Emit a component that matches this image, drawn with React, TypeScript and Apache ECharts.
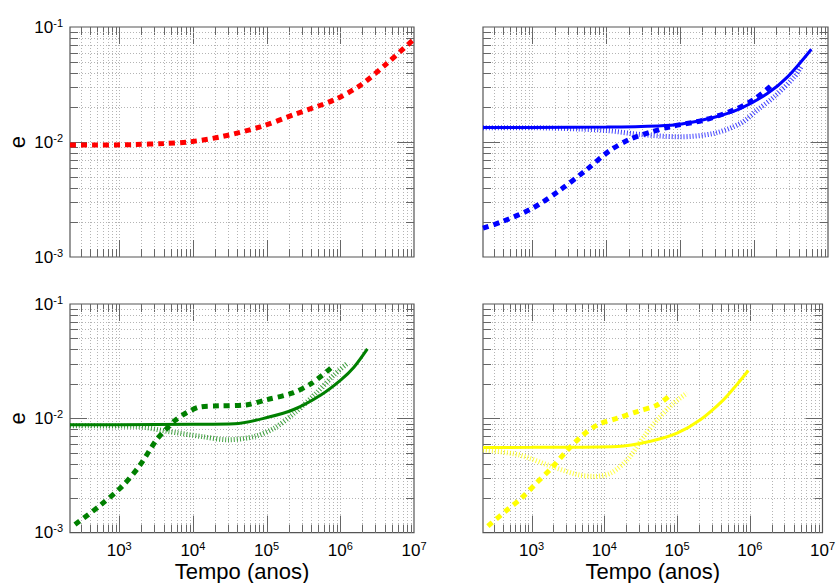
import React, { useEffect, useRef } from "react";
import * as echarts from "echarts";

// ---- axis ranges ----
const X_MIN = 215;
const X_MAX = 1e7;
const Y_MIN = 1e-3;
const Y_MAX = 1e-1;
const X_DECADES = [2, 3, 4, 5, 6];
const Y_DECADES = [-3, -2];
const X_NAME = "Tempo (anos)";
const Y_NAME = "e";

// ---- data: [time (years), e] ----
const redDashed = [
  [215, 0.0094], [500, 0.0094], [1600, 0.0095], [4000, 0.0097], [8600, 0.01],
  [24000, 0.0111], [84000, 0.0136], [240000, 0.0174], [820000, 0.0232],
  [1.9e6, 0.0313], [4.3e6, 0.0483], [9.9e6, 0.078],
];

const blueSolid = [
  [215, 0.0134], [1000, 0.0134], [1e4, 0.0135], [5e4, 0.0138], [1e5, 0.01426],
  [2.9e5, 0.0164], [6.6e5, 0.0196], [1.53e6, 0.0265], [2.86e6, 0.037], [5.96e6, 0.064],
];
const blueDashed = [
  [215, 0.00178], [390, 0.00203], [1000, 0.00265], [2310, 0.00377], [5350, 0.00571],
  [11100, 0.0084], [20800, 0.01055], [39100, 0.01213], [73100, 0.0136], [208000, 0.0155],
  [535000, 0.019], [1e6, 0.0235], [1.69e6, 0.0307],
];
const blueDotted = [
  [215, 0.0133], [1000, 0.0133], [4000, 0.013], [1e4, 0.0126], [3e4, 0.0116],
  [1e5, 0.0111], [2.9e5, 0.0119], [6.6e5, 0.01456], [1.11e6, 0.019], [1.88e6, 0.0248],
  [3.52e6, 0.037], [4.3e6, 0.045],
];

const greenSolid = [
  [215, 0.00877], [1000, 0.00878], [1e4, 0.00885], [36700, 0.00895], [1.04e5, 0.0102],
  [2.38e5, 0.012], [5.45e5, 0.016], [1.02e6, 0.0217], [1.53e6, 0.028], [2.33e6, 0.0405],
];
const greenDashed = [
  [251, 0.001175], [545, 0.00172], [1115, 0.00257], [1892, 0.00385], [3212, 0.00649],
  [4385, 0.00809], [5623, 0.0095], [8170, 0.01117], [12240, 0.01254], [22800, 0.01285],
  [52800, 0.0131], [98400, 0.0145], [221000, 0.0166], [412000, 0.0203], [767000, 0.028],
];
const greenDotted = [
  [215, 0.0086], [1640, 0.0085], [4620, 0.00767], [13000, 0.00693], [29900, 0.00649],
  [68400, 0.00693], [1.27e5, 0.0082], [2.38e5, 0.0111], [4.43e5, 0.016], [8.24e5, 0.024],
  [1.25e6, 0.0303],
];

const yellowSolid = [
  [215, 0.00556], [1000, 0.00557], [15100, 0.00567], [43400, 0.0063], [1e5, 0.0074],
  [2.09e5, 0.0097], [4.35e5, 0.0145], [6.6e5, 0.0196], [9.55e5, 0.0262],
];
const yellowDashed = [
  [251, 0.00114], [434, 0.00153], [731, 0.00201], [1170, 0.00272], [1875, 0.00367],
  [3000, 0.00513], [4810, 0.00693], [8130, 0.00878], [15200, 0.01004], [28500, 0.01146],
  [53500, 0.0131], [81300, 0.016],
];
const yellowDotted = [
  [215, 0.0053], [661, 0.0048], [1875, 0.0038], [4340, 0.00321], [7330, 0.0031],
  [12300, 0.00332], [20800, 0.00435], [35200, 0.00693], [53500, 0.0097], [90400, 0.0136],
  [137000, 0.0166],
];

const RED = "#ff0000";
const BLUE = "#0000ff";
const GREEN = "#008000";
const YELLOW = "#ffff00";
const FONT = "Liberation Sans, Arial, sans-serif";

type Curve = { data: number[][]; color: string; kind: "solid" | "dashed" | "dotted" };

const panels: {
  grid: { left: number; top: number; width: number; height: number };
  showX: boolean;
  showY: boolean;
  curves: Curve[];
}[] = [
  {
    grid: { left: 70, top: 27, width: 344, height: 230 },
    showX: false,
    showY: true,
    curves: [{ data: redDashed, color: RED, kind: "dashed" }],
  },
  {
    grid: { left: 483, top: 27, width: 345, height: 230 },
    showX: false,
    showY: false,
    curves: [
      { data: blueDotted, color: BLUE, kind: "dotted" },
      { data: blueDashed, color: BLUE, kind: "dashed" },
      { data: blueSolid, color: BLUE, kind: "solid" },
    ],
  },
  {
    grid: { left: 70, top: 304, width: 344, height: 229 },
    showX: true,
    showY: true,
    curves: [
      { data: greenDotted, color: GREEN, kind: "dotted" },
      { data: greenDashed, color: GREEN, kind: "dashed" },
      { data: greenSolid, color: GREEN, kind: "solid" },
    ],
  },
  {
    grid: { left: 483, top: 304, width: 345, height: 229 },
    showX: true,
    showY: false,
    curves: [
      { data: yellowDotted, color: YELLOW, kind: "dotted" },
      { data: yellowDashed, color: YELLOW, kind: "dashed" },
      { data: yellowSolid, color: YELLOW, kind: "solid" },
    ],
  },
];

function gridValues(decades: number[], lo: number, hi: number) {
  const out: { v: number; major: boolean }[] = [];
  for (const d of decades) {
    for (let k = 1; k <= 9; k++) {
      const v = k * Math.pow(10, d);
      if (v > lo * 1.0001 && v < hi * 0.9999) out.push({ v, major: k === 1 });
    }
  }
  return out;
}
const X_GRID = gridValues(X_DECADES, X_MIN, X_MAX);
const Y_GRID = gridValues(Y_DECADES, Y_MIN, Y_MAX);

const powLabel = (v: number) => {
  const l = Math.log10(v);
  const r = Math.round(l);
  if (Math.abs(l - r) > 1e-6) return "";
  return "{b|10}{s|" + r + "}";
};

const labelRich = {
  b: { fontSize: 17, fontFamily: FONT, color: "#000" },
  s: { fontSize: 11, fontFamily: FONT, color: "#000", padding: [0, 0, 9, 0] },
};

function renderGrid(params: any, api: any) {
  const cs = params.coordSys;
  const left = cs.x;
  const top = cs.y;
  const right = cs.x + cs.width;
  const bottom = cs.y + cs.height;
  const children: any[] = [];
  const gridStyle = { stroke: "#b4b4b4", lineWidth: 1, lineDash: [1, 2] };
  const tickStyle = { stroke: "#666", lineWidth: 1 };
  const MAJ = 17;
  const MIN = 8;
  for (const g of X_GRID) {
    const px = Math.round(api.coord([g.v, 0.01])[0]) + 0.5;
    children.push({ type: "line", shape: { x1: px, y1: top, x2: px, y2: bottom }, style: gridStyle, silent: true });
    const len = g.major ? MAJ : MIN;
    children.push({ type: "line", shape: { x1: px, y1: bottom, x2: px, y2: bottom - len }, style: tickStyle, silent: true });
    children.push({ type: "line", shape: { x1: px, y1: top, x2: px, y2: top + len }, style: tickStyle, silent: true });
  }
  for (const g of Y_GRID) {
    const py = Math.round(api.coord([1000, g.v])[1]) + 0.5;
    children.push({ type: "line", shape: { x1: left, y1: py, x2: right, y2: py }, style: gridStyle, silent: true });
    const len = g.major ? MAJ : MIN;
    children.push({ type: "line", shape: { x1: left, y1: py, x2: left + len, y2: py }, style: tickStyle, silent: true });
    children.push({ type: "line", shape: { x1: right, y1: py, x2: right - len, y2: py }, style: tickStyle, silent: true });
  }
  return { type: "group", children };
}

function buildOption() {
  const grid: any[] = [];
  const xAxis: any[] = [];
  const yAxis: any[] = [];
  const series: any[] = [];
  panels.forEach((p, i) => {
    grid.push({
      ...p.grid,
      show: true,
      borderColor: "#555",
      borderWidth: 1.2,
      backgroundColor: "#fff",
    });
    xAxis.push({
      type: "log",
      logBase: 10,
      gridIndex: i,
      min: X_MIN,
      max: X_MAX,
      axisLine: { show: false },
      axisTick: { show: false },
      splitLine: { show: false },
      axisLabel: {
        show: p.showX,
        formatter: powLabel,
        rich: labelRich,
        margin: 8,
        hideOverlap: false,
        showMinLabel: true,
        showMaxLabel: true,
      },
      name: p.showX ? X_NAME : "",
      nameLocation: "middle",
      nameGap: 24,
      nameTextStyle: { fontSize: 22, fontFamily: FONT, color: "#000" },
    });
    yAxis.push({
      type: "log",
      logBase: 10,
      gridIndex: i,
      min: Y_MIN,
      max: Y_MAX,
      axisLine: { show: false },
      axisTick: { show: false },
      splitLine: { show: false },
      axisLabel: {
        show: p.showY,
        formatter: powLabel,
        rich: labelRich,
        margin: 7,
        showMinLabel: true,
        showMaxLabel: true,
      },
      name: p.showY ? Y_NAME : "",
      nameLocation: "middle",
      nameRotate: 90,
      nameGap: 42,
      nameTextStyle: { fontSize: 22, fontFamily: FONT, color: "#000" },
    });
    series.push({
      type: "custom",
      xAxisIndex: i,
      yAxisIndex: i,
      data: [[1000, 0.01]],
      renderItem: renderGrid,
      silent: true,
      clip: false,
      z: 1,
    });
    p.curves.forEach((c) => {
      let lineStyle: any;
      if (c.kind === "solid") lineStyle = { color: c.color, width: 3 };
      else if (c.kind === "dashed") lineStyle = { color: c.color, width: 5, type: [6, 5], cap: "butt" };
      else lineStyle = { color: c.color, width: 5, type: [1, 2], cap: "butt", opacity: 0.75 };
      series.push({
        type: "line",
        xAxisIndex: i,
        yAxisIndex: i,
        data: c.data,
        symbol: "none",
        showSymbol: false,
        smooth: 0.3,
        lineStyle,
        z: 3,
        silent: true,
      });
    });
  });
  return { animation: false, backgroundColor: "#fff", grid, xAxis, yAxis, series };
}

export default function App() {
  const ref = useRef<HTMLDivElement>(null);
  useEffect(() => {
    if (!ref.current) return;
    const chart = echarts.init(ref.current, undefined, { renderer: "svg" });
    chart.setOption(buildOption());
    return () => chart.dispose();
  }, []);
  return (
    <div
      ref={ref}
      style={{ position: "absolute", left: 0, top: 0, width: 838, height: 583, background: "#fff" }}
    />
  );
}
